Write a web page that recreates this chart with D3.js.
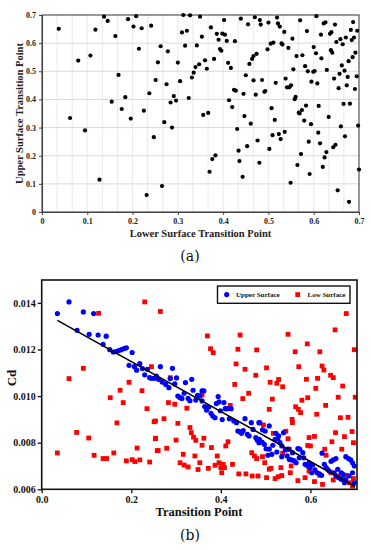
<!DOCTYPE html>
<html><head><meta charset="utf-8">
<script src="https://cdn.jsdelivr.net/npm/d3@7"></script>
<style>html,body{margin:0;padding:0;background:#fff;}svg{display:block;}</style>
</head><body>
<script>
// ---------- Chart (a) data ----------
const aLowerX = [0.037,0.062,0.080,0.095,0.107,0.118,0.137,0.145,0.162,0.169,0.154,0.176,0.184,0.190,0.196,0.202,0.214,0.208,0.220,0.225,0.237,0.241,0.247,0.251,0.256,0.262,0.270,0.275,0.284,0.278,0.287,0.291,0.296,0.300,0.305,0.309,0.312,0.316,0.320,0.324,0.327,0.331,0.335,0.339,0.342,0.347,0.349,0.353,0.356,0.360,0.364,0.367,0.373,0.380,0.386,0.390,0.393,0.396,0.398,0.402,0.404,0.408,0.411,0.413,0.417,0.420,0.424,0.426,0.428,0.431,0.439,0.445,0.447,0.450,0.455,0.458,0.461,0.464,0.467,0.467,0.470,0.472,0.474,0.483,0.481,0.486,0.491,0.493,0.498,0.500,0.505,0.507,0.511,0.514,0.516,0.519,0.521,0.525,0.529,0.531,0.535,0.538,0.541,0.544,0.546,0.550,0.553,0.555,0.558,0.560,0.562,0.567,0.569,0.570,0.574,0.575,0.579,0.581,0.583,0.585,0.587,0.594,0.595,0.599,0.600,0.602,0.605,0.606,0.608,0.611,0.616,0.617,0.622,0.626,0.629,0.633,0.636,0.638,0.639,0.641,0.647,0.645,0.650,0.655,0.657,0.659,0.660,0.662,0.664,0.666,0.668,0.671,0.673,0.675,0.677,0.680,0.682,0.684,0.686,0.687,0.689,0.691,0.692,0.695,0.696,0.698,0.127,0.231,0.265,0.370,0.376,0.383,0.434,0.436,0.443,0.453,0.476,0.480,0.502,0.509,0.523,0.527,0.536,0.549,0.564,0.572,0.589,0.591,0.610,0.614,0.620,0.624,0.628,0.643,0.648,0.653,0.669,0.678,0.700];
const aUpperY = [0.651,0.334,0.538,0.290,0.556,0.648,0.694,0.679,0.625,0.487,0.392,0.366,0.408,0.685,0.332,0.659,0.580,0.696,0.653,0.360,0.422,0.662,0.266,0.469,0.532,0.589,0.319,0.454,0.389,0.571,0.300,0.412,0.396,0.531,0.465,0.638,0.700,0.591,0.644,0.405,0.699,0.478,0.495,0.515,0.592,0.525,0.694,0.623,0.345,0.539,0.509,0.352,0.656,0.544,0.633,0.612,0.579,0.573,0.634,0.682,0.630,0.608,0.530,0.397,0.512,0.373,0.434,0.607,0.431,0.295,0.687,0.420,0.341,0.486,0.667,0.526,0.314,0.544,0.554,0.468,0.692,0.417,0.562,0.666,0.682,0.469,0.427,0.430,0.578,0.673,0.598,0.369,0.602,0.327,0.459,0.691,0.670,0.659,0.599,0.595,0.640,0.474,0.443,0.583,0.443,0.450,0.616,0.507,0.401,0.409,0.554,0.353,0.350,0.681,0.362,0.557,0.325,0.518,0.378,0.643,0.500,0.312,0.463,0.498,0.586,0.501,0.564,0.696,0.457,0.377,0.630,0.546,0.670,0.674,0.505,0.338,0.633,0.575,0.639,0.566,0.666,0.474,0.604,0.440,0.491,0.614,0.304,0.521,0.596,0.384,0.502,0.620,0.450,0.480,0.536,0.385,0.647,0.611,0.550,0.675,0.620,0.437,0.566,0.482,0.644,0.307,0.115,0.060,0.092,0.143,0.188,0.201,0.218,0.181,0.125,0.234,0.254,0.175,0.224,0.273,0.277,0.259,0.285,0.104,0.167,0.206,0.250,0.135,0.282,0.244,0.160,0.194,0.213,0.230,0.239,0.077,0.269,0.036,0.151];
const aTicks = [0,0.1,0.2,0.3,0.4,0.5,0.6,0.7];
const aTickLabels = ["0","0.1","0.2","0.3","0.4","0.5","0.6","0.7"];

// ---------- Chart (b) data ----------
const upperX = [0.035,0.061,0.093,0.116,0.079,0.106,0.126,0.144,0.137,0.152,0.160,0.166,0.172,0.178,0.184,0.189,0.202,0.195,0.207,0.212,0.219,0.225,0.230,0.236,0.241,0.245,0.251,0.256,0.265,0.292,0.261,0.269,0.277,0.284,0.287,0.297,0.301,0.304,0.309,0.313,0.318,0.321,0.327,0.331,0.335,0.338,0.344,0.348,0.353,0.358,0.362,0.358,0.364,0.368,0.373,0.378,0.382,0.387,0.390,0.394,0.396,0.399,0.403,0.407,0.410,0.414,0.419,0.423,0.429,0.435,0.438,0.443,0.446,0.450,0.454,0.459,0.463,0.468,0.472,0.478,0.481,0.485,0.485,
0.487,0.493,0.486,0.492,0.497,0.501,0.508,0.516,0.521,0.527,0.532,0.536,0.540,0.544,0.536,0.525,0.548,0.553,0.558,0.564,0.568,0.572,0.576,0.583,0.588,0.594,0.599,0.605,0.610,0.615,0.620,0.625,0.626,0.631,0.635,0.638,0.642,0.646,0.651,0.657,0.657,0.663,0.669,0.673,0.679,0.685,0.690,0.694,0.698,0.694,0.679,0.686,0.676,0.698,0.669,0.661,0.653,0.603,0.597,0.585,0.575,0.560,0.550,0.514,0.505,0.523,0.529,0.508,0.499];
const upperCd = [0.01354,0.01404,0.01361,0.01354,0.01282,0.01265,0.01262,0.01257,0.01222,0.01199,0.01189,0.01191,0.01195,0.01199,0.01204,0.01207,0.01187,0.01132,0.01126,0.01111,0.01139,0.01118,0.01091,0.01115,0.01079,0.01076,0.01076,0.01086,0.01126,0.01119,0.01072,0.01060,0.01050,0.01036,0.01075,0.01052,0.01078,0.01000,0.00993,0.00990,0.01012,0.01058,0.00990,0.00980,0.01072,0.01025,0.00983,0.01003,0.01000,0.01022,0.01022,0.00979,0.00955,0.00940,0.00953,0.00926,0.00914,0.00907,0.00968,0.00998,0.00975,0.00937,0.00899,0.00972,0.00946,0.00946,0.00903,0.00946,0.00893,0.00886,0.00850,0.00847,0.00840,0.00852,0.00903,0.00836,0.00829,0.00886,0.00857,0.00822,0.00812,0.00886,0.00800,
0.00886,0.00855,0.00814,0.00803,0.00793,0.00774,0.00772,0.00789,0.00814,0.00817,0.00800,0.00786,0.00843,0.00769,0.00740,0.00760,0.00743,0.00728,0.00726,0.00722,0.00714,0.00775,0.00772,0.00757,0.00707,0.00700,0.00693,0.00705,0.00683,0.00671,0.00666,0.00660,0.00755,0.00707,0.00693,0.00686,0.00678,0.00720,0.00726,0.00732,0.00657,0.00650,0.00643,0.00664,0.00740,0.00732,0.00726,0.00714,0.00700,0.00671,0.00640,0.00657,0.00628,0.00628,0.00671,0.00686,0.00671,0.00671,0.00714,0.00735,0.00735,0.00757,0.00772,0.00750,0.00746,0.00840,0.00829,0.00872,0.00850];
const lowX = [0.127,0.230,0.061,0.093,0.245,0.195,0.175,0.153,0.182,0.224,0.235,0.168,0.251,0.078,0.105,0.254,0.035,0.117,0.137,0.145,0.161,0.189,0.202,0.208,0.213,0.219,0.241,0.258,
0.265,0.370,0.377,0.383,0.443,0.438,0.434,0.454,0.480,0.478,0.431,0.462,0.449,0.287,0.358,0.283,0.297,0.273,0.254,0.324,0.304,0.421,0.331,0.334,0.339,0.344,0.362,0.300,0.279,0.260,0.254,0.358,0.379,0.416,0.411,0.316,0.342,0.353,0.309,0.318,0.327,0.349,0.372,0.387,0.392,0.396,0.400,0.405,0.408,0.402,0.426,0.440,0.456,0.470,0.483,0.469,0.475,0.480,
0.680,0.655,0.550,0.593,0.698,0.566,0.621,0.574,0.626,0.630,0.502,0.645,0.651,0.591,0.616,0.529,0.510,0.525,0.538,0.612,0.672,0.594,0.662,0.700,0.515,0.581,0.634,0.567,0.573,0.508,0.578,0.614,0.559,0.667,0.684,0.560,0.495,0.517,0.656,0.693,0.545,0.550,0.597,0.609,0.676,0.648,0.696,0.594,0.600,0.670,0.553,0.632,0.538,0.493,0.635,0.498,0.508,0.534,0.512,0.557,0.521,0.528,0.536,0.502,0.555,0.572,0.588,0.597,0.609,0.621,0.651,0.661,0.673,0.680,0.687,0.696,0.646,0.627,0.694];
const lowCd = [0.01355,0.01404,0.01075,0.01119,0.01126,0.01059,0.01025,0.00993,0.00972,0.01023,0.00946,0.00885,0.00890,0.00844,0.00820,0.00819,0.00756,0.00746,0.00732,0.00732,0.00756,0.00722,0.00727,0.00719,0.00777,0.00726,0.00717,0.00766,
0.01363,0.01258,0.01203,0.01186,0.01262,0.01201,0.01138,0.01115,0.01198,0.01089,0.01050,0.01012,0.00989,0.01079,0.01005,0.00972,0.00965,0.00903,0.00893,0.00948,0.00883,0.00960,0.00865,0.00843,0.00824,0.00810,0.00819,0.00811,0.00776,0.00766,0.00817,0.00789,0.00779,0.00804,0.00786,0.00750,0.00743,0.00714,0.00714,0.00704,0.00696,0.00685,0.00690,0.00703,0.00743,0.00714,0.00693,0.00707,0.00693,0.00671,0.00707,0.00666,0.00666,0.00657,0.00657,0.00757,0.00743,0.00732,
0.01354,0.01284,0.01265,0.01224,0.01199,0.01190,0.01190,0.01126,0.01129,0.01112,0.01121,0.01089,0.01079,0.01072,0.01076,0.01071,0.01059,0.01055,0.01040,0.01033,0.01043,0.00993,0.00995,0.00995,0.00987,0.00982,0.00960,0.00954,0.00943,0.00943,0.00929,0.00922,0.00900,0.00907,0.00909,0.00886,0.00876,0.00840,0.00843,0.00848,0.00849,0.00817,0.00822,0.00827,0.00826,0.00804,0.00800,0.00788,0.00786,0.00772,0.00772,0.00772,0.00755,0.00740,0.00746,0.00714,0.00686,0.00693,0.00690,0.00700,0.00646,0.00654,0.00659,0.00650,0.00671,0.00637,0.00650,0.00678,0.00633,0.00660,0.00640,0.00657,0.00643,0.00660,0.00628,0.00646,0.00671,0.00621,0.00614];
const fitX = [0.035, 0.700];
const fitCd = [0.01325, 0.00612];
const bXTicks = [0.0,0.2,0.4,0.6];
const bXTickLabels = ["0.0","0.2","0.4","0.6"];
const bYTicks = [0.006,0.008,0.010,0.012,0.014];
const bYTickLabels = ["0.006","0.008","0.010","0.012","0.014"];
const legendLabels = ["Upper Surface","Low Surface"];

const W = 371, H = 550;
const serif = "'Liberation Serif','Times New Roman',serif";
const svg = d3.select("body").append("svg").attr("width", W).attr("height", H);

// ================= Chart (a) =================
{
  const L = 42, R = 359, T = 15, B = 212;
  const x = d3.scaleLinear().domain([0, 0.7]).range([L, R]);
  const y = d3.scaleLinear().domain([0, 0.7]).range([B, T]);
  const g = svg.append("g");
  // minor vertical gridlines
  const vgrid = d3.range(1, 21).map(i => i * 0.7 / 21);
  g.append("g").selectAll("line").data(vgrid).join("line")
    .attr("x1", d => x(d)).attr("x2", d => x(d)).attr("y1", T).attr("y2", B)
    .attr("stroke", "#e3e3e3").attr("stroke-width", 0.8);
  g.append("g").selectAll("line").data(aTicks.slice(1, -1)).join("line")
    .attr("x1", L).attr("x2", R).attr("y1", d => y(d)).attr("y2", d => y(d))
    .attr("stroke", "#d6d6d6").attr("stroke-width", 0.9);
  // border
  g.append("rect").attr("x", L).attr("y", T).attr("width", R - L).attr("height", B - T)
    .attr("fill", "none").attr("stroke", "#444").attr("stroke-width", 1.1);
  // axes
  const xa = d3.axisBottom(x).tickValues(aTicks).tickFormat((d, i) => aTickLabels[i]).tickSize(3).tickPadding(3);
  const ya = d3.axisLeft(y).tickValues(aTicks).tickFormat((d, i) => aTickLabels[i]).tickSize(3).tickPadding(3);
  const gx = g.append("g").attr("transform", `translate(0,${B})`).call(xa);
  const gy = g.append("g").attr("transform", `translate(${L},0)`).call(ya);
  [gx, gy].forEach(a => {
    a.select(".domain").attr("stroke", "#444").attr("stroke-width", 1.1);
    a.selectAll(".tick line").attr("stroke", "#444");
    a.selectAll("text").attr("font-family", serif).attr("font-weight", "bold").attr("font-size", 8).attr("fill", "#222");
  });
  // points
  g.append("g").selectAll("circle").data(aLowerX).join("circle")
    .attr("cx", d => x(d)).attr("cy", (d, i) => y(aUpperY[i])).attr("r", 2.1).attr("fill", "#000");
  // titles
  g.append("text").attr("x", (L + R) / 2).attr("y", 236.5).attr("text-anchor", "middle")
    .attr("font-family", serif).attr("font-weight", "bold").attr("font-size", 10.5).attr("fill", "#222")
    .text("Lower Surface Transition Point");
  g.append("text").attr("transform", `translate(22.5,${(T + B) / 2}) rotate(-90)`).attr("text-anchor", "middle")
    .attr("font-family", serif).attr("font-weight", "bold").attr("font-size", 10.5).attr("fill", "#222")
    .text("Upper Surface Transition Point");
  g.append("text").attr("x", 190).attr("y", 261).attr("text-anchor", "middle")
    .attr("font-family", "'DejaVu Serif',serif").attr("font-size", 14).attr("fill", "#111").text("(a)");
}

// ================= Chart (b) =================
{
  const L = 41.7, R = 357, T = 280, B = 489.3;
  const x = d3.scaleLinear().domain([0, 0.704]).range([L, R]);
  const y = d3.scaleLinear().domain([0.006, 0.01498]).range([B, T]);
  const g = svg.append("g");
  const clipId = "clipb";
  svg.append("defs").append("clipPath").attr("id", clipId).append("rect")
    .attr("x", L).attr("y", T).attr("width", R - L).attr("height", B - T);
  const xa = d3.axisBottom(x).tickValues(bXTicks).tickFormat((d, i) => bXTickLabels[i]).tickSize(4).tickPadding(3);
  const ya = d3.axisLeft(y).tickValues(bYTicks).tickFormat((d, i) => bYTickLabels[i]).tickSize(4).tickPadding(2);
  const gx = g.append("g").attr("transform", `translate(0,${B})`).call(xa);
  const gy = g.append("g").attr("transform", `translate(${L},0)`).call(ya);
  [gx, gy].forEach(a => {
    a.select(".domain").remove();
    a.selectAll(".tick line").attr("stroke", "#111").attr("stroke-width", 1.3);
    a.selectAll("text").attr("font-family", serif).attr("font-weight", "bold").attr("font-size", 10).attr("fill", "#111");
  });
  const pts = g.append("g").attr("clip-path", `url(#${clipId})`);
  // low surface squares
  const s = 4.8;
  pts.append("g").selectAll("rect").data(lowX).join("rect")
    .attr("x", d => x(d) - s / 2).attr("y", (d, i) => y(lowCd[i]) - s / 2)
    .attr("width", s).attr("height", s).attr("fill", "#ff0000");
  // upper surface circles
  pts.append("g").selectAll("circle").data(upperX).join("circle")
    .attr("cx", d => x(d)).attr("cy", (d, i) => y(upperCd[i])).attr("r", 2.6).attr("fill", "#0000ff");
  // fit line
  pts.append("line").attr("x1", x(fitX[0])).attr("y1", y(fitCd[0])).attr("x2", x(fitX[1])).attr("y2", y(fitCd[1]))
    .attr("stroke", "#000").attr("stroke-width", 1.5);
  // frame
  g.append("rect").attr("x", L).attr("y", T).attr("width", R - L).attr("height", B - T)
    .attr("fill", "none").attr("stroke", "#111").attr("stroke-width", 1.6);
  // legend
  const lg = g.append("g");
  lg.append("rect").attr("x", 217.5).attr("y", 286).attr("width", 132.5).attr("height", 17.3)
    .attr("fill", "#fff").attr("stroke", "#111").attr("stroke-width", 1.4);
  lg.append("circle").attr("cx", 226.7).attr("cy", 294.6).attr("r", 2.6).attr("fill", "#0000ff");
  lg.append("rect").attr("x", 297.7 - 2.4).attr("y", 294.6 - 2.4).attr("width", 4.8).attr("height", 4.8).attr("fill", "#ff0000");
  lg.append("text").attr("x", 236).attr("y", 297.2).text(legendLabels[0]);
  lg.append("text").attr("x", 307.5).attr("y", 297.2).text(legendLabels[1]);
  lg.selectAll("text").attr("font-family", serif).attr("font-weight", "bold").attr("font-size", 7).attr("fill", "#111");
  // titles
  g.append("text").attr("x", 199).attr("y", 515.5).attr("text-anchor", "middle")
    .attr("font-family", serif).attr("font-weight", "bold").attr("font-size", 12.5).attr("fill", "#111")
    .text("Transition Point");
  g.append("text").attr("transform", `translate(16,378) rotate(-90)`).attr("text-anchor", "middle")
    .attr("font-family", serif).attr("font-weight", "bold").attr("font-size", 13).attr("fill", "#111")
    .text("Cd");
  g.append("text").attr("x", 190).attr("y", 540).attr("text-anchor", "middle")
    .attr("font-family", "'DejaVu Serif',serif").attr("font-size", 14).attr("fill", "#111").text("(b)");
}
</script>
</body></html>
